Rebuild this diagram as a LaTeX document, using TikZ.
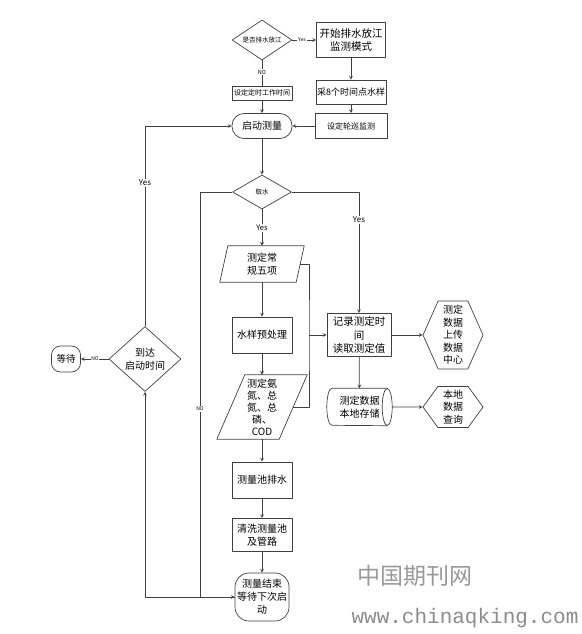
\documentclass[tikz,border=0pt]{standalone}
\usepackage{fontspec}
\setmainfont{Noto Sans CJK SC}
\newfontfamily\wmfont{Liberation Mono}
\usetikzlibrary{shapes.geometric,shapes.symbols}

% outline of a slanted (data) box around a plain node
\newcommand{\slantframe}[2]{\draw[wire] ([xshift=-#2]#1.south west) -- ([xshift=#2]#1.north west)
  -- ([xshift=#2]#1.north east) -- ([xshift=-#2]#1.south east) -- cycle;}
% outline of a lying drum around a plain node
\newcommand{\drumframe}[3]{\draw[wire] (#1.north east) -- (#1.north west)
  arc[start angle=90,end angle=270,x radius=#2,y radius=#3] -- (#1.south east);
  \draw[wire] (#1.east) ellipse[x radius=#2,y radius=#3];}

\begin{document}
\begin{tikzpicture}[>=stealth,x=1pt,y=-1pt,line join=round,
    wire/.style={draw=black!75,line width=0.7pt},
    box/.style={wire,rectangle,inner sep=0pt,align=center,font=\fontsize{10}{12.5}\selectfont},
    pill/.style={box,rounded corners=#1},
    choice/.style={wire,diamond,inner sep=0pt,align=center,aspect=#1},
    slant/.style={rectangle,inner sep=0pt,align=center,font=\fontsize{10}{12.5}\selectfont},
    hexa/.style={wire,signal,signal to=west and east,inner sep=0pt,align=center,font=\fontsize{10}{12.5}\selectfont},
    tag/.style={fill=white,inner sep=0.8pt,font=\fontsize{#1}{#1}\selectfont}]
\useasboundingbox (0,0) rectangle (581,634);
% top part
\node[choice=1.6,minimum width=60pt,minimum height=40pt,font=\fontsize{6.5}{7}\selectfont] (askdrain) at (262,40) {是否排水放江};
\node[box,minimum width=69pt,minimum height=35pt,font=\fontsize{10.5}{13.5}\selectfont] (mode) at (351,40) {开始排水放江\\监测模式};
\node[box,minimum width=60pt,minimum height=14pt,font=\fontsize{7}{8}\selectfont] (timer) at (262,93) {设定定时工作时间};
\node[box,minimum width=70pt,minimum height=24pt,font=\fontsize{9}{10}\selectfont] (sample) at (351,92) {采8个时间点水样};
\node[box,minimum width=72pt,minimum height=25pt,font=\fontsize{8}{9}\selectfont] (patrol) at (351,126) {设定轮巡监测};
\node[pill=12pt,minimum width=60pt,minimum height=25pt] (launch) at (262,126) {启动测量};
% main column
\node[choice=1.7,minimum width=59pt,minimum height=34pt,font=\fontsize{6.5}{7}\selectfont] (intake) at (262,192) {取水};
\node[slant,minimum width=76pt,minimum height=36pt] (five) at (262,264) {测定常\\规五项};
\node[box,minimum width=60pt,minimum height=36pt] (pretreat) at (262,335) {水样预处理};
\node[slant,minimum width=62pt,minimum height=64pt,font=\fontsize{10}{12}\selectfont] (nutri) at (262,407) {测定氨\\氮、总\\氮、总\\磷、\\COD};
\node[box,minimum width=60pt,minimum height=36pt] (drainpool) at (262,480) {测量池排水};
\node[box,minimum width=60pt,minimum height=33pt] (rinse) at (262,535) {清洗测量池\\及管路};
\node[pill=14pt,minimum width=54pt,minimum height=48pt,font=\fontsize{10}{13}\selectfont] (finish) at (262,597) {测量结束\\等待下次启\\动};
\slantframe{five}{4pt}
\slantframe{nutri}{14pt}
% right column
\node[box,minimum width=64pt,minimum height=43pt,font=\fontsize{10.5}{13.5}\selectfont] (record) at (359,335) {记录测定时\\间\\读取测定值};
\node[slant,minimum width=55pt,minimum height=37pt,font=\fontsize{10}{13}\selectfont] (store) at (359.5,407) {测定数据\\本地存储};
\drumframe{store}{5pt}{18.5pt}
\node[hexa,signal pointer angle=132,minimum width=60pt,minimum height=68pt] (upload) at (453,335) {测定\\数据\\上传\\数据\\中心};
\node[hexa,signal pointer angle=108,minimum width=60pt,minimum height=41pt] (query) at (453,407) {本地\\数据\\查询};
% left side
\node[choice=1.1,minimum width=72pt,minimum height=65pt,font=\fontsize{10}{13}\selectfont] (arrive) at (145,359) {到达\\启动时间};
\node[pill=9pt,minimum width=29pt,minimum height=26pt,font=\fontsize{9.5}{10}\selectfont] (wait) at (66,359) {等待};
% connectors
\draw[wire,->] (askdrain) -- (mode);
\draw[wire] (askdrain) -- (timer);
\draw[wire,->] (timer) -- (launch);
\draw[wire,->] (mode) -- (sample);
\draw[wire,->] (sample) -- (patrol);
\draw[wire,->] (patrol) -- (launch);
\draw[wire,->] (launch) -- (intake);
\draw[wire,->] (intake) -- (five);
\draw[wire,->] (five) -- (pretreat);
\draw[wire,->] (pretreat) -- (nutri);
\draw[wire,->] (nutri) -- (drainpool);
\draw[wire,->] (drainpool) -- (rinse);
\draw[wire,->] (rinse) -- (finish);
\draw[wire,->] (intake.east) -| (record.north);
\coordinate (bus) at (309,335);
\draw[wire] (five.east) -| (bus) |- (nutri.east);
\draw[wire,->] (bus) -- (record.west);
\draw[wire,->] (record) -- (upload);
\draw[wire,->] (record) -- (store);
\draw[wire,->] ([xshift=5pt]store.east) -- (query);
\coordinate (nojoin) at (200,597);
\draw[wire,->] (intake.west) -| (nojoin) -- (finish.west);
\draw[wire,->] (finish.west) -| (arrive.south);
\draw[wire,->] (arrive.north) |- (launch.west);
\draw[wire,->] (arrive) -- (wait);
% labels
\node[tag=5] (yestop) at (302,40) {Yes};
\node[tag=5.5] (notop) at (262,72) {NO};
\node[tag=8] (yesleft) at (145,183) {Yes};
\node[tag=8] (yesright) at (359,220) {Yes};
\node[tag=7.5] (yesdown) at (262,228) {Yes};
\node[tag=5] (nomid) at (200,409) {NO};
\node[tag=5] (noleft) at (95,359) {NO};
% watermark
\node[text=black!40,font=\fontsize{23}{23}\selectfont] (wmname) at (415,576) {中国期刊网};
\node[text=black!45,font=\wmfont\fontsize{21}{21}\selectfont] (wmsite) at (465,618) {www.chinaqking.com};
\end{tikzpicture}
\end{document}
